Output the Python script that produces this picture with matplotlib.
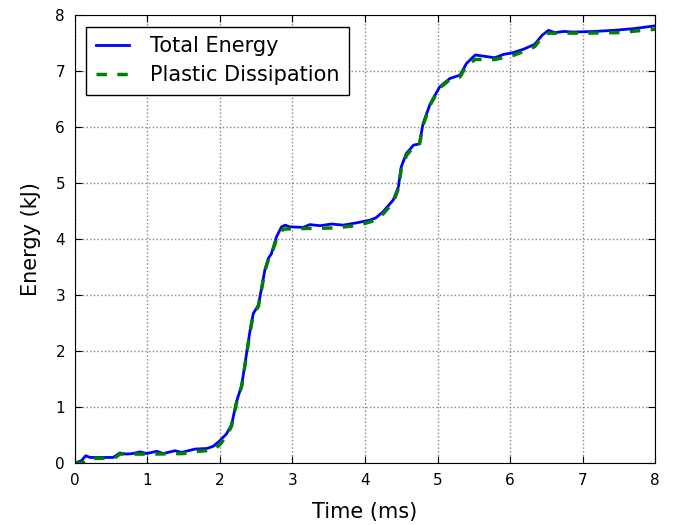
import matplotlib
matplotlib.use("Agg")
import matplotlib.pyplot as plt

# Total energy (kJ) vs time (ms)
t_total = [0, 0.09, 0.15, 0.21, 0.53, 0.62, 0.71, 0.80, 0.90, 0.99, 1.13, 1.22,
           1.38, 1.47, 1.66, 1.82, 1.91, 2.00, 2.09, 2.16, 2.23, 2.30, 2.34, 2.41,
           2.46, 2.53, 2.57, 2.62, 2.67, 2.71, 2.78, 2.85, 2.90, 2.96, 3.15, 3.24,
           3.38, 3.54, 3.70, 3.88, 4.07, 4.15, 4.25, 4.39, 4.46, 4.50, 4.57, 4.67,
           4.75, 4.80, 4.90, 5.03, 5.17, 5.31, 5.40, 5.52, 5.63, 5.79, 5.91, 6.04,
           6.18, 6.34, 6.44, 6.53, 6.62, 6.74, 6.87, 7.15, 7.43, 7.70, 8.00]
e_total = [0, 0.04, 0.13, 0.10, 0.10, 0.18, 0.16, 0.17, 0.20, 0.17, 0.21, 0.17,
           0.22, 0.19, 0.25, 0.26, 0.30, 0.40, 0.52, 0.68, 1.10, 1.39, 1.72, 2.32,
           2.67, 2.82, 3.09, 3.45, 3.66, 3.74, 4.04, 4.22, 4.25, 4.22, 4.21, 4.26,
           4.24, 4.27, 4.25, 4.29, 4.34, 4.38, 4.49, 4.70, 4.93, 5.29, 5.53, 5.68,
           5.70, 6.06, 6.42, 6.72, 6.87, 6.93, 7.14, 7.29, 7.27, 7.24, 7.30, 7.33,
           7.39, 7.48, 7.64, 7.73, 7.69, 7.71, 7.70, 7.71, 7.73, 7.76, 7.81]

# Plastic dissipation
t_plastic = [0, 0.10, 0.18, 0.55, 0.62, 1.08, 1.50, 1.70, 1.91, 2.00, 2.09, 2.16,
             2.23, 2.30, 2.34, 2.41, 2.46, 2.53, 2.57, 2.62, 2.67, 2.71, 2.78, 2.87,
             3.15, 3.60, 3.92, 4.10, 4.25, 4.39, 4.46, 4.50, 4.57, 4.67, 4.75, 4.80,
             4.90, 5.03, 5.17, 5.31, 5.40, 5.52, 5.79, 5.91, 6.04, 6.18, 6.34, 6.44,
             6.53, 7.00, 7.50, 8.00]
e_plastic = [0, 0.0, 0.08, 0.09, 0.16, 0.16, 0.17, 0.21, 0.23, 0.33, 0.48, 0.66,
             1.08, 1.37, 1.70, 2.30, 2.65, 2.80, 3.07, 3.43, 3.64, 3.72, 4.00, 4.18,
             4.19, 4.20, 4.25, 4.32, 4.45, 4.66, 4.90, 5.25, 5.49, 5.65, 5.68, 6.03,
             6.40, 6.70, 6.85, 6.90, 7.10, 7.21, 7.21, 7.24, 7.28, 7.35, 7.44, 7.60,
             7.68, 7.68, 7.69, 7.75]

fig = plt.figure(figsize=(6.74, 5.25), dpi=100)
ax = fig.add_axes([0.111, 0.118, 0.861, 0.853])

ax.plot(t_total, e_total, color="blue", lw=2, label="Total Energy")
ax.plot(t_plastic, e_plastic, color="green", lw=2.5, ls="--", dashes=(3, 3),
        label="Plastic Dissipation")

ax.set_xlim(0, 8)
ax.set_ylim(0, 8)
ax.set_xticks(range(0, 9))
ax.set_yticks(range(0, 9))
ax.tick_params(direction="in", top=True, right=True, labelsize=11, length=5, pad=7)
ax.grid(True, color="#888888", ls=":", lw=1.0)

# Lables
ax.set_xlabel("Time (ms)", fontsize=15, labelpad=10)
ax.set_ylabel("Energy (kJ)", fontsize=15, labelpad=10)

leg = ax.legend(loc="upper left", fontsize=15, fancybox=False, framealpha=1,
                edgecolor="black", borderaxespad=0.55, handlelength=1.6,
                handletextpad=1.0, labelspacing=0.45, borderpad=0.45)
leg.get_frame().set_linewidth(1.0)

fig.savefig("out.png", dpi=100)
